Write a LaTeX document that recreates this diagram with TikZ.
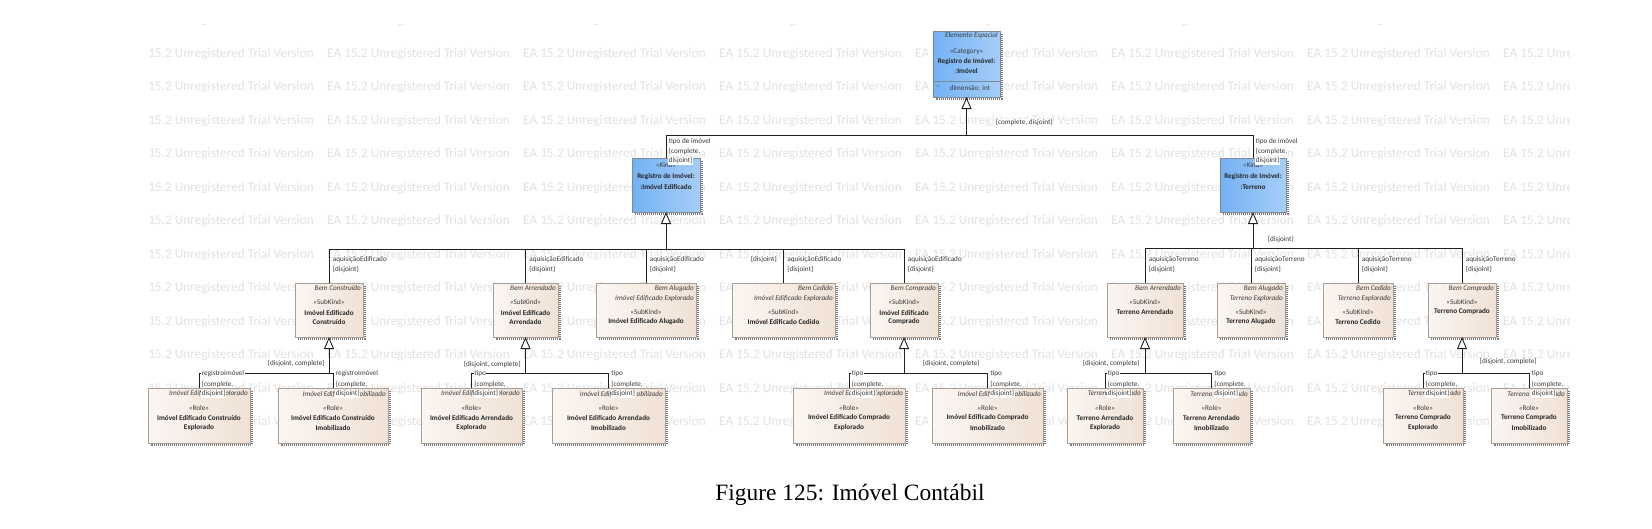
\documentclass[tikz,border=0pt]{standalone}
\usepackage{fontspec}
\newfontfamily\carlito{Carlito}
\newfontfamily\capserif{Liberation Serif}
\usetikzlibrary{arrows.meta}
\definecolor{wmgray}{HTML}{E2E2E2}
\definecolor{lineblack}{HTML}{202020}
\definecolor{shadowgray}{HTML}{7A7A7A}
\definecolor{beigeL}{HTML}{FBF6F2}
\definecolor{beigeR}{HTML}{F0E1D5}
\definecolor{beigeborder}{HTML}{A89E96}
\definecolor{blueL}{HTML}{74B2F4}
\definecolor{blueR}{HTML}{A6CDF8}
\definecolor{blueborder}{HTML}{7C8A98}
\definecolor{txt}{HTML}{3C3C3C}
\definecolor{txtb}{HTML}{262626}
\newcommand\eaf{\carlito\fontsize{7.2}{9}\selectfont}
\newcommand\ubox[6]{%
  \draw[shadowline] ({#4+1.6},{#3+3}) -- ({#4+1.6},{#5+1.6}) -- ({#2+3},{#5+1.6});
  \node[#6, anchor=north west, minimum width={#4-#2}, minimum height={#5-#3}] (#1) at (#2,#3) {};}
\newcommand\lab[4]{\node[tlab] (#1) at ({#2},{#3}) {#4};}
\tikzset{
  wm/.style={font=\carlito\fontsize{13.3}{16}\selectfont, text=wmgray, anchor=base west, inner sep=0},
  conn/.style={draw=lineblack, line width=0.9pt},
  gen/.style={conn, -{Triangle[open, length=12pt, width=10pt, fill=white]}},
  shadowline/.style={draw=shadowgray, line width=2pt, dash pattern=on 1pt off 1pt},
  beigebox/.style={draw=beigeborder, line width=0.6pt, left color=beigeL, right color=beigeR, inner sep=0, outer sep=0},
  bluebox/.style={draw=blueborder, line width=0.6pt, left color=blueL, right color=blueR, inner sep=0, outer sep=0},
  tit/.style={font=\eaf\itshape, text=txt, inner sep=0, anchor=east, xshift=-2pt},
  tst/.style={font=\eaf, text=txt, inner sep=0},
  tbd/.style={font=\eaf\bfseries, text=txtb, inner sep=0},
  tlab/.style={font=\eaf, text=txt, fill=white, inner sep=0.6pt, anchor=west},
}
\begin{document}
\begin{tikzpicture}[x=1pt,y=-1pt]
\fill[white] (0,0) rectangle (1652,528);
\useasboundingbox (0,0) rectangle (1652,528);
% watermark
\begin{scope}
\clip (147,24.6) rectangle (1569,433);
\foreach \r in {0,...,12}{\foreach \c in {0,...,7}{
  \node[wm] (wm-\r-\c) at ({131+196*\c},{23.8+33.5*\r}) {EA 15.2 Unregistered Trial Version};}}
\end{scope}
% ---------- boxes ----------
\ubox{top}{933}{31}{1000}{97}{bluebox}
\ubox{l2a}{632}{158}{700}{212}{bluebox}
\ubox{l2b}{1220}{158}{1286}{212}{bluebox}
\ubox{bcons}{295}{283}{363}{337}{beigebox}
\ubox{barr}{493}{283}{558}{337}{beigebox}
\ubox{balu}{596}{283}{696}{337}{beigebox}
\ubox{bced}{732}{283}{835}{337}{beigebox}
\ubox{bcomp}{870}{283}{938}{337}{beigebox}
\ubox{tarr}{1107}{283}{1183}{337}{beigebox}
\ubox{talu}{1217}{283}{1285}{337}{beigebox}
\ubox{tced}{1323}{283}{1393}{337}{beigebox}
\ubox{tcomp}{1428}{283}{1496}{337}{beigebox}
\ubox{r1}{148}{388}{250}{443}{beigebox}
\ubox{r2}{278}{388}{388}{443}{beigebox}
\ubox{r3}{421}{388}{522}{443}{beigebox}
\ubox{r4}{552}{388}{665}{443}{beigebox}
\ubox{r5}{793}{388}{905}{443}{beigebox}
\ubox{r6}{932}{388}{1043}{443}{beigebox}
\ubox{r7}{1067}{388}{1143}{443}{beigebox}
\ubox{r8}{1173}{388}{1250}{443}{beigebox}
\ubox{r9}{1383}{388}{1463}{443}{beigebox}
\ubox{r10}{1491}{388}{1567}{443}{beigebox}
% ---------- texts ----------
\node[tit] (top-i) at (top.east |- 0,36) {Elemento Espacial};
\node[tst] (top-s) at (top.north |- 0,51.7) {«Category»};
\node[tbd] (top-n1) at (top.north |- 0,61.7) {Registro de Imóvel:};
\node[tbd] (top-n2) at (top.north |- 0,70.7) {:Imóvel};
\draw[draw=blueborder, line width=0.6pt] (top.west |- 0,81) -- (top.east |- 0,81);
\node[tst] (top-a1) at (938,87.7) {-};
\node[tst] (top-a2) at (970,87.7) {dimensão: int};

\node[tst] (l2a-s) at (l2a.north |- 0,165) {«Kind»};
\node[tbd] (l2a-n1) at (l2a.north |- 0,177) {Registro de Imóvel:};
\node[tbd] (l2a-n2) at (l2a.north |- 0,187) {:Imóvel Edificado};
\node[tst] (l2b-s) at (l2b.north |- 0,165) {«Kind»};
\node[tbd] (l2b-n1) at (l2b.north |- 0,177) {Registro de Imóvel:};
\node[tbd] (l2b-n2) at (l2b.north |- 0,187) {:Terreno};

% level 3
\node[tit] (bcons-i) at (bcons.east |- 0,288.5) {Bem Construído};
\node[tst] (bcons-s) at (bcons.north |- 0,302.5) {«SubKind»};
\node[tbd] (bcons-n1) at (bcons.north |- 0,312.5) {Imóvel Edificado};
\node[tbd] (bcons-n2) at (bcons.north |- 0,322) {Construído};

\node[tit] (barr-i) at (barr.east |- 0,288.5) {Bem Arrendado};
\node[tst] (barr-s) at (barr.north |- 0,302.5) {«SubKind»};
\node[tbd] (barr-n1) at (barr.north |- 0,312.5) {Imóvel Edificado};
\node[tbd] (barr-n2) at (barr.north |- 0,322) {Arrendado};

\node[tit] (balu-i) at (balu.east |- 0,288.5) {Bem Alugado};
\node[tit] (balu-i2) at (balu.east |- 0,298.5) {Imóvel Edificado Explorado};
\node[tst] (balu-s) at (balu.north |- 0,312) {«SubKind»};
\node[tbd] (balu-n1) at (balu.north |- 0,322) {Imóvel Edificado Alugado};

\node[tit] (bced-i) at (bced.east |- 0,288.5) {Bem Cedido};
\node[tit] (bced-i2) at (bced.east |- 0,298.5) {Imóvel Edificado Explorado};
\node[tst] (bced-s) at (bced.north |- 0,312) {«SubKind»};
\node[tbd] (bced-n1) at (bced.north |- 0,322) {Imóvel Edificado Cedido};

\node[tit] (bcomp-i) at (bcomp.east |- 0,288.5) {Bem Comprado};
\node[tst] (bcomp-s) at (bcomp.north |- 0,302.5) {«SubKind»};
\node[tbd] (bcomp-n1) at (bcomp.north |- 0,312.5) {Imóvel Edificado};
\node[tbd] (bcomp-n2) at (bcomp.north |- 0,322) {Comprado};

\node[tit] (tarr-i) at (tarr.east |- 0,288.5) {Bem Arrendado};
\node[tst] (tarr-s) at (tarr.north |- 0,302) {«SubKind»};
\node[tbd] (tarr-n1) at (tarr.north |- 0,312) {Terreno Arrendado};

\node[tit] (talu-i) at (talu.east |- 0,288.5) {Bem Alugado};
\node[tit] (talu-i2) at (talu.east |- 0,298.5) {Terreno Explorado};
\node[tst] (talu-s) at (talu.north |- 0,312) {«SubKind»};
\node[tbd] (talu-n1) at (talu.north |- 0,322) {Terreno Alugado};

\node[tit] (tced-i) at (tced.east |- 0,288.5) {Bem Cedido};
\node[tit] (tced-i2) at (tced.east |- 0,298.5) {Terreno Explorado};
\node[tst] (tced-s) at (tced.north |- 0,312) {«SubKind»};
\node[tbd] (tced-n1) at (tced.north |- 0,322) {Terreno Cedido};

\node[tit] (tcomp-i) at (tcomp.east |- 0,288.5) {Bem Comprado};
\node[tst] (tcomp-s) at (tcomp.north |- 0,302) {«SubKind»};
\node[tbd] (tcomp-n1) at (tcomp.north |- 0,312) {Terreno Comprado};

% level 4
\foreach \n/\ital/\na/\nb in {
  r1/Imóvel Edificado Explorado/Imóvel Edificado Construído/Explorado,
  r2/Imóvel Edificado Imobilizado/Imóvel Edificado Construído/Imobilizado,
  r3/Imóvel Edificado Explorado/Imóvel Edificado Arrendado/Explorado,
  r4/Imóvel Edificado Imobilizado/Imóvel Edificado Arrendado/Imobilizado,
  r5/Imóvel Edificado Explorado/Imóvel Edificado Comprado/Explorado,
  r6/Imóvel Edificado Imobilizado/Imóvel Edificado Comprado/Imobilizado,
  r7/Terreno Explorado/Terreno Arrendado/Explorado,
  r8/Terreno Imobilizado/Terreno Arrendado/Imobilizado,
  r9/Terreno Explorado/Terreno Comprado/Explorado,
  r10/Terreno Imobilizado/Terreno Comprado/Imobilizado}{
  \node[tit] (\n-i) at (\n.east |- 0,394) {\ital};
  \node[tst] (\n-s) at (\n.north |- 0,408.5) {«Role»};
  \node[tbd] (\n-n1) at (\n.north |- 0,418) {\na};
  \node[tbd] (\n-n2) at (\n.north |- 0,428) {\nb};
}

% ---------- connectors ----------
\coordinate (j1) at (top.south |- 0,135);
\draw[gen] (j1) -- (top.south);
\draw[conn] (l2a.north) |- (l2b.north |- j1) -- (l2b.north);

\coordinate (j2) at (l2a.south |- 0,249);
\draw[gen] (j2) -- (l2a.south);
\draw[conn] (bcons.north) |- (bcomp.north |- j2) -- (bcomp.north);
\foreach \n in {barr,balu,bced} \draw[conn] (\n.north) -- (\n.north |- j2);

\coordinate (j3) at (l2b.south |- 0,248);
\draw[gen] (j3) -- (l2b.south);
\draw[conn] (tarr.north) |- (tcomp.north |- j3) -- (tcomp.north);
\foreach \n in {talu,tced} \draw[conn] (\n.north) -- (\n.north |- j3);

\foreach \p/\a/\b in {bcons/r1/r2, barr/r3/r4, bcomp/r5/r6, tarr/r7/r8, tcomp/r9/r10}{
  \coordinate (j-\p) at (\p.south |- 0,373);
  \draw[gen] (j-\p) -- (\p.south);
  \draw[conn] (\a.north) |- (\b.north |- j-\p) -- (\b.north);
}

% ---------- labels ----------
\lab{lt}{995}{123}{\{complete, disjoint\}}
\foreach \x/\k in {668/a, 1255/b}{
  \lab{l1-\k}{\x}{141.7}{tipo de imóvel}
  \lab{l2-\k}{\x}{151.7}{\{complete,}
  \lab{l3-\k}{\x}{160.7}{disjoint\}}
}
\foreach \x/\k in {332/a, 528.5/b, 649/c, 786.5/d, 907/e}{
  \lab{ae1-\k}{\x}{260}{aquisiçãoEdificado}
  \lab{ae2-\k}{\x}{270}{\{disjoint\}}
}
\lab{ldj}{750}{260}{\{disjoint\}}
\foreach \x/\k in {1148/a, 1254/b, 1361/c, 1465/d}{
  \lab{at1-\k}{\x}{260}{aquisiçãoTerreno}
  \lab{at2-\k}{\x}{270}{\{disjoint\}}
}
\lab{ldt}{1267}{240}{\{disjoint\}}
\foreach \x/\k/\w in {201/1/registroImóvel, 335/2/registroImóvel, 473.5/3/tipo, 610.5/4/tipo, 851/5/tipo, 989.5/6/tipo, 1107/7/tipo, 1213.5/8/tipo, 1425/9/tipo, 1531/10/tipo}{
  \lab{rl1-\k}{\x}{374}{\w}
  \lab{rl2-\k}{\x}{384}{\{complete,}
  \lab{rl3-\k}{\x}{394}{disjoint\}}
}
\foreach \x/\y/\k in {267/364/a, 463/365/b, 922/364/c, 1082/364/d, 1479/362/e}{
  \lab{dc-\k}{\x}{\y}{\{disjoint, complete\}}
}
% caption
\node[font=\capserif\fontsize{23.4}{28}\selectfont, anchor=base, inner sep=0] (cap) at (850,500) {Figure 125: Imóvel Contábil};
\end{tikzpicture}
\end{document}
